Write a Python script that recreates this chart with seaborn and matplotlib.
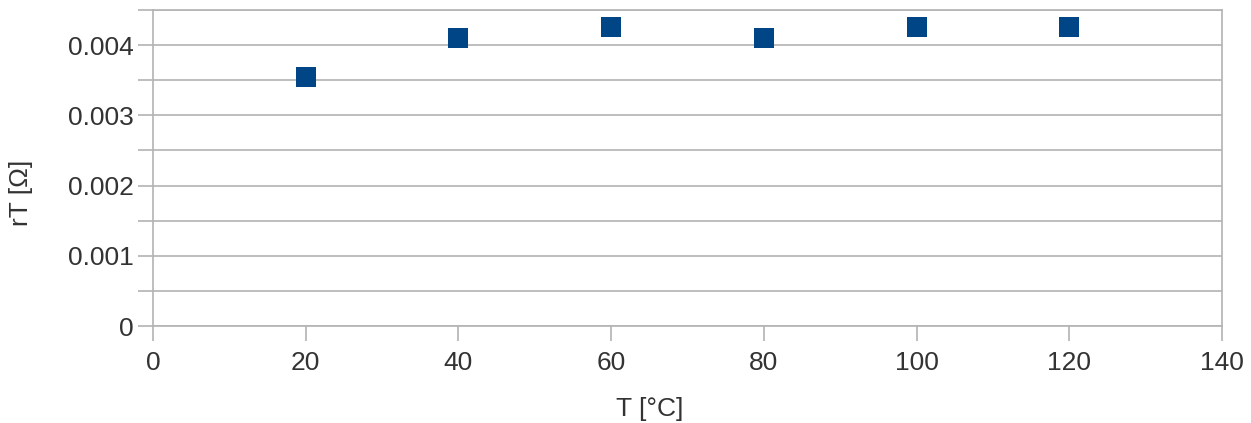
import pandas as pd
import seaborn as sns
import matplotlib.pyplot as plt
from matplotlib.ticker import MultipleLocator

# values
temps = [20, 40, 60, 80, 100, 120]
r_t = [0.00354, 0.0041, 0.00426, 0.0041, 0.00426, 0.00426]

df = pd.DataFrame({'T': temps, 'rT': r_t})

sns.set_style('white')
plt.rcParams['font.family'] = ['Liberation Sans', 'DejaVu Sans']

fig = plt.figure(figsize=(12.51, 4.23), dpi=100)
ax = fig.add_axes([153 / 1251, 97 / 423, 1069 / 1251, 316 / 423])

sns.scatterplot(data=df, x='T', y='rT', marker='s', s=215, color='#004586',
                edgecolor='#004586', linewidth=0, ax=ax, zorder=3)

ax.set_xlim(0, 140)
ax.set_ylim(0, 0.0045)
ax.xaxis.set_major_locator(MultipleLocator(20))
ax.yaxis.set_minor_locator(MultipleLocator(0.0005))
ax.set_yticks([0, 0.001, 0.002, 0.003, 0.004])
ax.set_yticklabels(['0', '0.001', '0.002', '0.003', '0.004'])

grid_c = '#b3b3b3'
ax.grid(True, which='both', axis='y', color=grid_c, linewidth=1.2)
for s in ax.spines.values():
    s.set_color(grid_c)
    s.set_linewidth(1.2)

ax.tick_params(axis='both', which='both', direction='out', color=grid_c,
               length=11, width=1.2, labelsize=19, labelcolor='#333333')
ax.tick_params(axis='y', which='both', left=True, pad=3)
ax.tick_params(axis='x', which='major', bottom=True, pad=7)

ax.set_xlabel('T [°C]', fontsize=19, color='#333333')
ax.set_ylabel('rT [Ω]', fontsize=19, color='#333333')
ax.xaxis.set_label_coords((650 - 153) / 1069, -0.225)
ax.yaxis.set_label_coords(-0.112, (326 - 193) / 316)

plt.savefig('out.png', dpi=100)
